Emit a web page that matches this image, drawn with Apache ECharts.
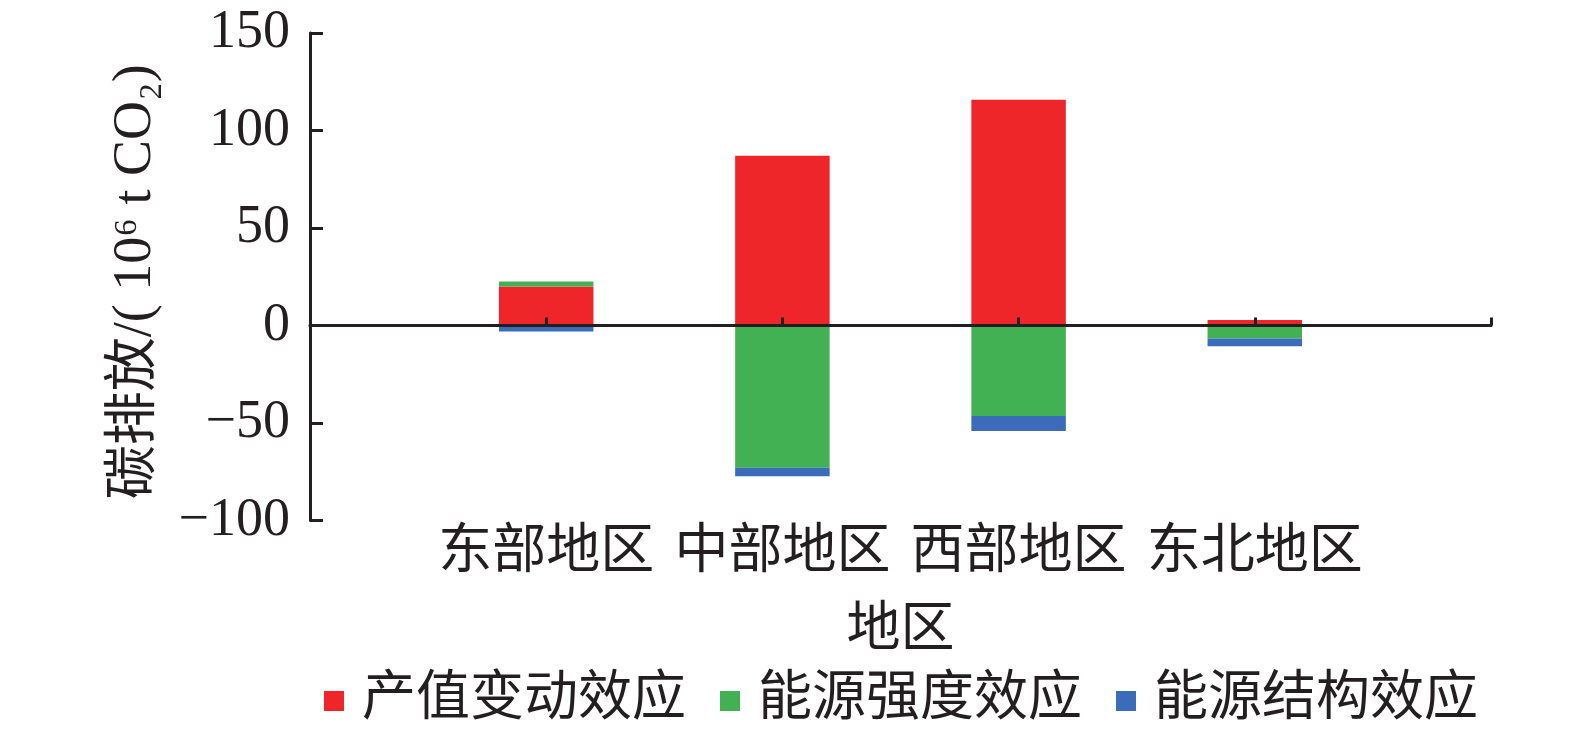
<!DOCTYPE html>
<html><head><meta charset="utf-8">
<script src="https://cdn.jsdelivr.net/npm/echarts@6/dist/echarts.min.js"></script>
<style>html,body{margin:0;padding:0;background:#fff}#c{width:1575px;height:735px}</style>
</head><body><div id="c"></div>
<script>
const regions = ['东部地区', '中部地区', '西部地区', '东北地区'];
const outputEffect = [20.0, 87.1, 115.8, 2.8];
const intensityEffect = [2.6, -72.9, -46.4, -6.7];
const structureEffect = [-3.1, -4.4, -7.7, -3.9];
const seriesNames = ['产值变动效应', '能源强度效应', '能源结构效应'];
const yMin = -100, yMax = 150, yInterval = 50;

const colors = ['#EE2529', '#41B153', '#3A6CB9'];
const ink = '#231F20';
const font = '"Liberation Serif", "Noto Sans CJK SC", serif';

const axisCats = [''].concat(regions, ['']);
const pad = arr => [null].concat(arr, [null]);
const values = [outputEffect, intensityEffect, structureEffect];

const chart = echarts.init(document.getElementById('c'));
chart.setOption({
  animation: false,
  backgroundColor: '#fff',
  textStyle: { fontFamily: font, color: ink },
  grid: { left: 310, right: 84, top: 33, bottom: 214.5, outerBoundsMode: 'none', containLabel: false },
  legend: {
    left: 319, top: 669, itemWidth: 20, itemHeight: 20, itemGap: 34, icon: 'rect',
    data: seriesNames,
    textStyle: { fontSize: 54, fontFamily: font, color: ink, padding: [0, 0, 0, 13] }
  },
  xAxis: [
    {
      type: 'category', data: axisCats, boundaryGap: false, position: 'bottom',
      axisLine: { show: false, onZero: false },
      axisTick: { show: false },
      axisLabel: { interval: 0, fontSize: 54, margin: 6, color: ink, fontFamily: font },
      name: '地区', nameLocation: 'middle', nameGap: 84,
      nameTextStyle: { fontSize: 54, color: ink, fontFamily: font },
      splitLine: { show: false }
    },
    {
      type: 'category', data: axisCats, boundaryGap: false, position: 'top', z: 10,
      axisLine: { show: true, onZero: true, lineStyle: { color: ink, width: 3 } },
      axisTick: { show: true, inside: false, length: 8, interval: 0, lineStyle: { color: ink, width: 3 } },
      axisLabel: { show: false },
      splitLine: { show: false }
    }
  ],
  yAxis: {
    type: 'value', min: yMin, max: yMax, interval: yInterval, z: 10,
    axisLine: { show: true, onZero: false, lineStyle: { color: ink, width: 3 } },
    axisTick: { show: true, inside: true, length: 13, lineStyle: { color: ink, width: 3 } },
    axisLabel: { fontSize: 54, margin: 20, color: ink, fontFamily: font,
      formatter: v => String(v).replace('-', '\u2212') },
    splitLine: { show: false },
    name: '碳排放/( 10⁶ t CO₂)', nameLocation: 'middle', nameGap: 147,
    nameTextStyle: { fontSize: 54, color: ink, fontFamily: font, padding: [0, 10, 0, 0] }
  },
  series: seriesNames.map((n, i) => ({
    name: n, type: 'bar', stack: 'total', xAxisIndex: 0, barWidth: '40%',
    itemStyle: { color: colors[i] },
    data: pad(values[i])
  }))
});
</script>
</body></html>
